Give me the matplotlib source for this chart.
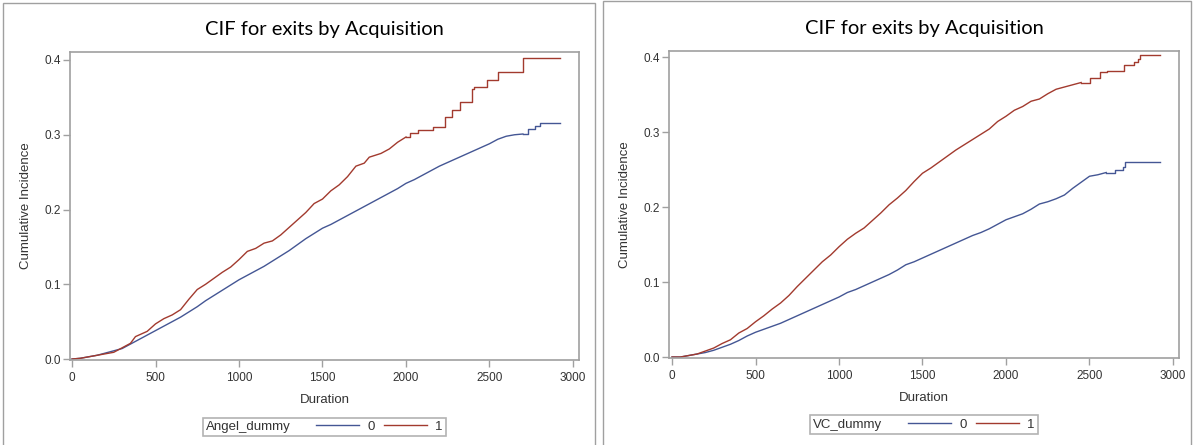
import numpy as np
import matplotlib
matplotlib.use("Agg")
import matplotlib.pyplot as plt
from matplotlib.patches import Rectangle
from matplotlib.offsetbox import HPacker

# Angel panel, group 0 (blue)
angel0_t = [0, 50, 100, 150, 200, 250, 300, 350, 400, 450, 500, 550, 600, 650, 700,
            750, 800, 850, 900, 950, 1000, 1050, 1100, 1150, 1200, 1250, 1300, 1350,
            1400, 1450, 1500, 1550, 1600, 1650, 1700, 1750, 1800, 1850, 1900, 1950,
            2000, 2050, 2100, 2150, 2200, 2250, 2300, 2350, 2400, 2450, 2500, 2550,
            2600, 2650, 2700, 2730, 2770, 2800, 2922]
angel0_v = [0, 0.001, 0.003, 0.005, 0.008, 0.011, 0.014, 0.020, 0.026, 0.032, 0.038,
            0.044, 0.050, 0.056, 0.063, 0.070, 0.078, 0.085, 0.092, 0.099, 0.106, 0.112,
            0.118, 0.124, 0.131, 0.138, 0.145, 0.153, 0.161, 0.168, 0.175, 0.180, 0.186,
            0.192, 0.198, 0.204, 0.210, 0.216, 0.222, 0.228, 0.235, 0.240, 0.246, 0.252,
            0.258, 0.263, 0.268, 0.273, 0.278, 0.283, 0.288, 0.294, 0.298, 0.300, 0.301,
            0.308, 0.312, 0.316, 0.316]

# Angel panel, group 1 (red)
angel1_t = [0, 50, 100, 150, 200, 250, 300, 350, 380, 450, 500, 550, 600, 650, 700,
            750, 800, 850, 900, 950, 1000, 1050, 1100, 1150, 1200, 1250, 1300, 1350,
            1400, 1450, 1500, 1550, 1600, 1650, 1700, 1750, 1780, 1850, 1900, 1950,
            2000, 2024, 2074, 2164, 2234, 2274, 2323, 2393, 2410, 2483, 2549, 2703, 2922]
angel1_v = [0, 0.001, 0.003, 0.005, 0.007, 0.009, 0.015, 0.021, 0.030, 0.037, 0.047,
            0.054, 0.059, 0.066, 0.080, 0.093, 0.100, 0.108, 0.116, 0.123, 0.133, 0.144,
            0.148, 0.155, 0.158, 0.166, 0.176, 0.186, 0.196, 0.208, 0.214, 0.225, 0.233,
            0.244, 0.258, 0.262, 0.270, 0.275, 0.281, 0.290, 0.297, 0.302, 0.306, 0.311,
            0.324, 0.333, 0.344, 0.361, 0.364, 0.373, 0.384, 0.403, 0.403]

# VC panel, group 0 (blue)
vc0_t = [0, 50, 100, 150, 200, 250, 300, 350, 400, 450, 500, 550, 600, 650, 700,
         750, 800, 850, 900, 950, 1000, 1050, 1100, 1150, 1200, 1250, 1300, 1350,
         1400, 1450, 1500, 1550, 1600, 1650, 1700, 1750, 1800, 1850, 1900, 1950,
         2000, 2050, 2100, 2150, 2200, 2250, 2300, 2350, 2400, 2450, 2500, 2550,
         2600, 2650, 2700, 2710, 2924]
vc0_v = [0, 0.000, 0.002, 0.004, 0.006, 0.009, 0.013, 0.017, 0.022, 0.028, 0.033,
         0.037, 0.041, 0.045, 0.050, 0.055, 0.060, 0.065, 0.070, 0.075, 0.080, 0.086,
         0.090, 0.095, 0.100, 0.105, 0.110, 0.116, 0.123, 0.127, 0.132, 0.137, 0.142,
         0.147, 0.152, 0.157, 0.162, 0.166, 0.171, 0.177, 0.183, 0.187, 0.191, 0.197,
         0.204, 0.207, 0.211, 0.216, 0.225, 0.233, 0.241, 0.243, 0.246, 0.250, 0.253,
         0.260, 0.260]

# VC panel, group 1 (red)
vc1_t = [0, 50, 100, 150, 200, 250, 300, 350, 400, 450, 500, 550, 600, 650, 700,
         750, 800, 850, 900, 950, 1000, 1050, 1100, 1150, 1200, 1250, 1300, 1350,
         1400, 1450, 1500, 1550, 1600, 1650, 1700, 1750, 1800, 1850, 1900, 1950,
         2000, 2050, 2100, 2150, 2200, 2250, 2300, 2350, 2400, 2450, 2505, 2565,
         2605, 2705, 2765, 2790, 2805, 2924]
vc1_v = [0, 0.000, 0.002, 0.004, 0.008, 0.012, 0.018, 0.023, 0.032, 0.038, 0.047,
         0.055, 0.064, 0.072, 0.082, 0.094, 0.105, 0.116, 0.127, 0.136, 0.147, 0.157,
         0.165, 0.172, 0.182, 0.192, 0.203, 0.212, 0.222, 0.234, 0.245, 0.252, 0.260,
         0.268, 0.276, 0.283, 0.290, 0.297, 0.304, 0.314, 0.321, 0.329, 0.334, 0.341,
         0.344, 0.351, 0.357, 0.360, 0.363, 0.366, 0.372, 0.380, 0.381, 0.389, 0.394,
         0.397, 0.403, 0.403]

group_labels = ["0", "1"]
y_ticks = [0.0, 0.1, 0.2, 0.3, 0.4]
x_ticks = [0, 500, 1000, 1500, 2000, 2500, 3000]

BLUE = "#445694"
RED = "#A23A2E"
GRAY = "#a0a0a0"
TXT = "#333333"

fig = plt.figure(figsize=(11.97, 4.45), dpi=100)
plt.rcParams["font.family"] = ["Liberation Sans", "DejaVu Sans"]

# panel borders
fig.add_artist(Rectangle((3 / 1197, -0.05), 592 / 1197, 1.05 - 3 / 445,
                         transform=fig.transFigure, fill=False, edgecolor=GRAY, lw=1))
fig.add_artist(Rectangle((603 / 1197, -0.05), 588 / 1197, 1.05 - 1.2 / 445,
                         transform=fig.transFigure, fill=False, edgecolor=GRAY, lw=1))

ax1 = fig.add_axes([70 / 1197, 1 - 360 / 445, 509 / 1197, 308 / 445])
ax2 = fig.add_axes([669 / 1197, 1 - 358 / 445, 510 / 1197, 307 / 445])

# the dense early part of each curve is drawn as a line, the sparse tail as steps
panels = [
    (ax1, angel0_t, angel0_v, 2700, angel1_t, angel1_v, 2000, "Angel_dummy",
     (-12, 3036), (-0.0013, 0.4107)),
    (ax2, vc0_t, vc0_v, 2600, vc1_t, vc1_v, 2450, "VC_dummy",
     (-18, 3036), (-0.0013, 0.408)),
]


def draw_curve(ax, t, v, step_from, color):
    t = np.array(t)
    v = np.array(v)
    k = int(np.searchsorted(t, step_from))
    line, = ax.plot(t[:k + 1], v[:k + 1], color=color, lw=1.0)
    ax.plot(t[k:], v[k:], drawstyle="steps-post", color=color, lw=1.0)
    return line


for ax, t0, v0, s0, t1, v1, s1, name, xl, yl in panels:
    l0 = draw_curve(ax, t0, v0, s0, BLUE)
    l1 = draw_curve(ax, t1, v1, s1, RED)
    ax.set_xlim(*xl)
    ax.set_ylim(*yl)
    ax.set_xticks(x_ticks)
    ax.set_yticks(y_ticks)
    ax.set_yticklabels([f"{v:.1f}" for v in y_ticks])
    for s in ax.spines.values():
        s.set_color(GRAY)
        s.set_linewidth(1.2)
    ax.tick_params(colors=GRAY, labelcolor=TXT, labelsize=8.5, length=5, width=1)
    ax.tick_params(axis="y", pad=1.5)
    ax.tick_params(axis="x", pad=3.5)
    ax.set_xlabel("Duration", fontsize=9.5, color=TXT, labelpad=7)
    ax.set_ylabel("Cumulative Incidence", fontsize=9.5, color=TXT, labelpad=9)
    ax.set_title("CIF for exits by Acquisition", fontsize=14.5, family=["Lato", "DejaVu Sans"],
                 color="black", pad=12)

    leg = ax.legend([l0, l1], group_labels, title=name, ncol=2, loc="center",
                    bbox_to_anchor=(0.5, -0.2175), frameon=True, fancybox=False,
                    edgecolor=GRAY, fontsize=9.5, title_fontsize=9.5,
                    handlelength=3.3, handletextpad=0.6, columnspacing=0.7,
                    borderpad=0.25, borderaxespad=0)
    leg.get_frame().set_linewidth(1.2)
    for txt in leg.get_texts():
        txt.set_color(TXT)
    leg.get_title().set_color(TXT)
    # put the legend title on the same row as the entries
    box = leg._legend_box
    leg._legend_box = HPacker(pad=box.pad, sep=18, align="center",
                              children=box.get_children())
    leg._legend_box.set_figure(fig)
    leg._legend_box.axes = ax
    leg._set_loc(leg._loc)

fig.savefig("out.png", dpi=100)
